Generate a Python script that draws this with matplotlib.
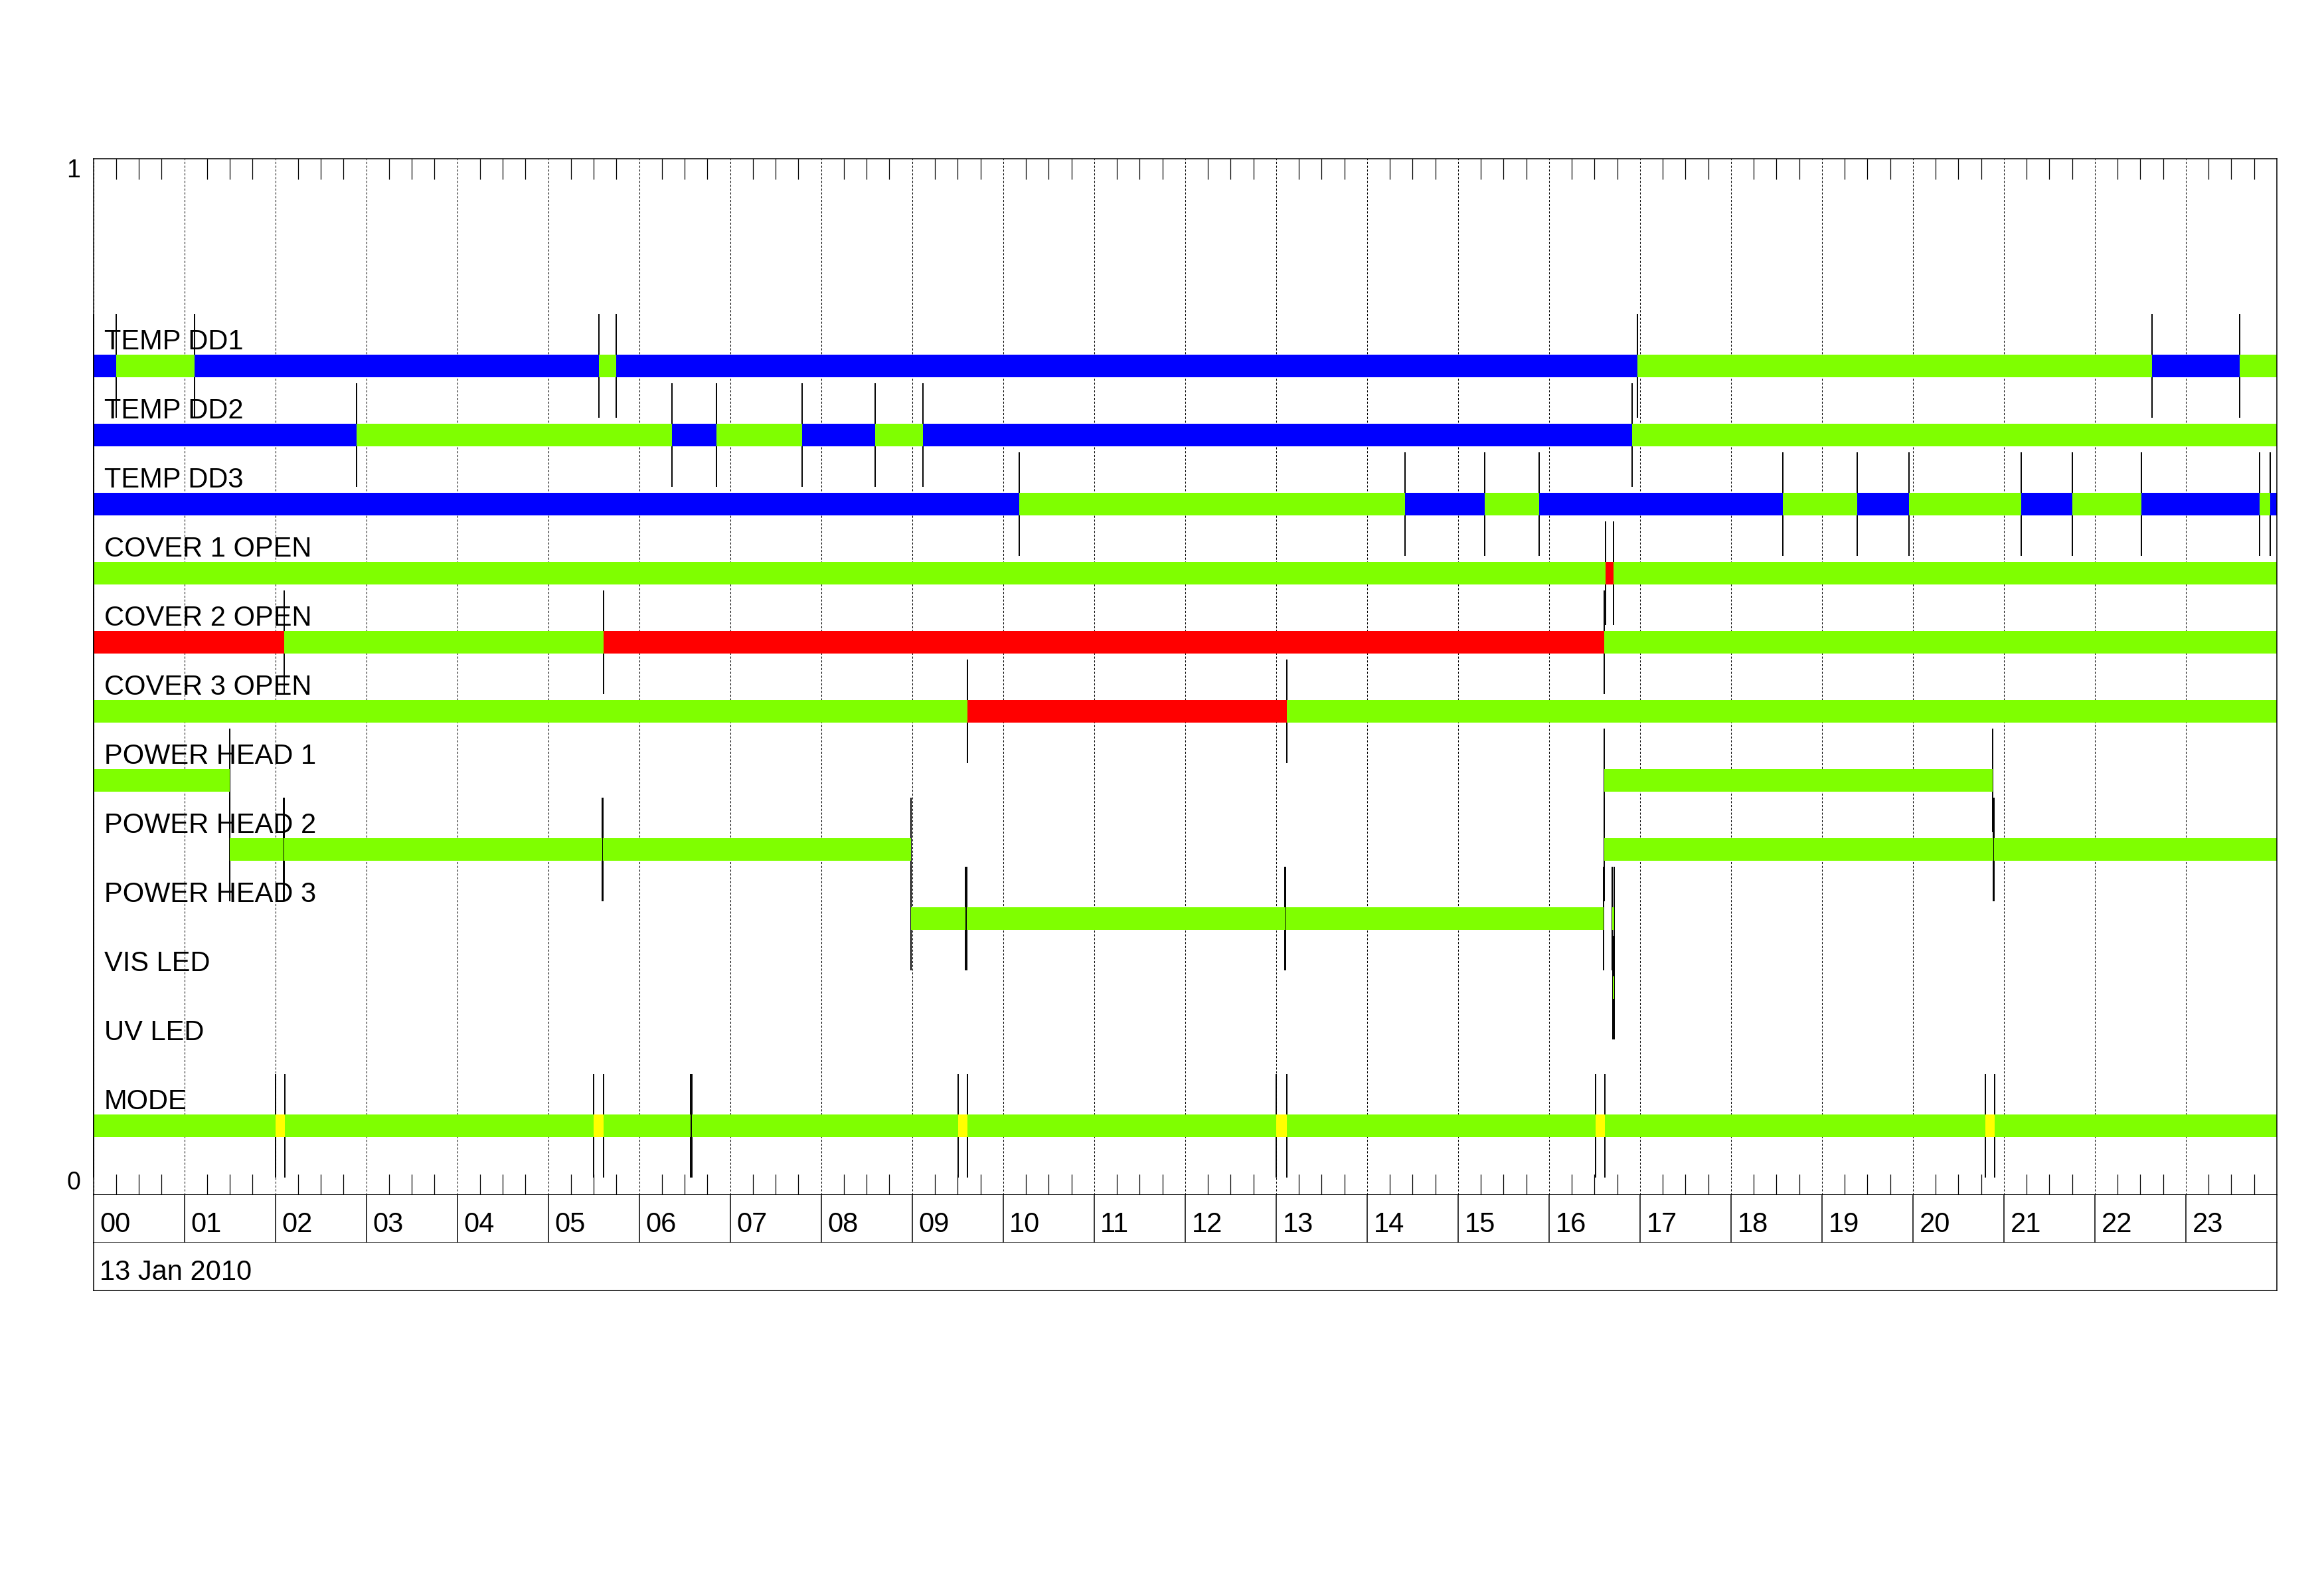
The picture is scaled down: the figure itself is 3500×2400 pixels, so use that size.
import matplotlib
matplotlib.use('Agg')
import matplotlib.pyplot as plt
import numpy as np

plt.rcParams['font.family'] = ['Liberation Sans', 'DejaVu Sans']

# Estados por fila: tiempos de transición (horas) y estado de cada tramo
# b = azul, g = verde, r = rojo, y = amarillo, None = sin dato
labels = ['TEMP DD1', 'TEMP DD2', 'TEMP DD3', 'COVER 1 OPEN', 'COVER 2 OPEN',
          'COVER 3 OPEN', 'POWER HEAD 1', 'POWER HEAD 2', 'POWER HEAD 3',
          'VIS LED', 'UV LED', 'MODE']

temp_dd1_t = [0, 0.25, 1.11, 5.555, 5.747, 16.97, 22.63, 23.59, 24]
temp_dd1_s = ['b', 'g', 'b', 'g', 'b', 'g', 'b', 'g']

temp_dd2_t = [0, 2.89, 6.358, 6.85, 7.79, 8.59, 9.12, 16.91, 24]
temp_dd2_s = ['b', 'g', 'b', 'g', 'b', 'g', 'b', 'g']

temp_dd3_t = [0, 10.18, 14.42, 15.29, 15.89, 18.57, 19.39, 19.96, 21.19,
              21.75, 22.51, 23.81, 23.93, 24]
temp_dd3_s = ['b', 'g', 'b', 'g', 'b', 'g', 'b', 'g', 'b', 'g', 'b', 'g', 'b']

cover1_t = [0, 16.62, 16.71, 24]
cover1_s = ['g', 'r', 'g']

cover2_t = [0, 2.10, 5.605, 16.61, 24]
cover2_s = ['r', 'g', 'r', 'g']

cover3_t = [0, 9.611, 13.115, 24]
cover3_s = ['g', 'r', 'g']

head1_t = [0, 1.50, 16.61, 20.88, 24]
head1_s = ['g', None, 'g', None]

head2_t = [0, 1.50, 2.088, 2.101, 5.592, 5.604, 8.99, 16.61, 20.882, 20.893, 24]
head2_s = [None, 'g', None, 'g', None, 'g', None, 'g', None, 'g']

head3_t = [0, 8.99, 9.589, 9.601, 13.093, 13.105, 16.596, 16.693, 16.718, 24]
head3_s = [None, 'g', None, 'g', None, 'g', None, 'g', None]

vis_t = [0, 16.700, 16.714, 24]
vis_s = [None, 'g', None]

uv_t = [0, 24]
uv_s = [None]

mode_t = [0, 2.001, 2.105, 5.501, 5.611, 6.567, 6.580, 9.509, 9.611,
          13.005, 13.115, 16.511, 16.614, 20.793, 20.90, 24]
mode_s = ['g', 'y', 'g', 'y', 'g', None, 'g', 'y', 'g', 'y', 'g', 'y', 'g', 'y', 'g']

row_times = [temp_dd1_t, temp_dd2_t, temp_dd3_t, cover1_t, cover2_t, cover3_t,
             head1_t, head2_t, head3_t, vis_t, uv_t, mode_t]
row_states = [temp_dd1_s, temp_dd2_s, temp_dd3_s, cover1_s, cover2_s, cover3_s,
              head1_s, head2_s, head3_s, vis_s, uv_s, mode_s]

hour_labels = ['%02d' % h for h in range(24)]
date_label = '13 Jan 2010'

colors = {'b': '#0000FF', 'g': '#7FFF00', 'r': '#FF0000', 'y': '#FFFF00'}

fig = plt.figure(figsize=(35, 24), dpi=100)
ax = fig.add_axes([0.04017, 0.25042, 0.93954, 0.65])

bar_h = 0.0215
for i, (times, states) in enumerate(zip(row_times, row_states)):
    yc = 0.8 - i / 15.0
    # Barras de estado
    for t0, t1, s in zip(times[:-1], times[1:], states):
        if s is None:
            continue
        ax.barh(yc, t1 - t0, left=t0, height=bar_h, color=colors[s],
                edgecolor='none', linewidth=0, zorder=2)
    # Marcas de transición (sin recorte para que la de t=0 engrose el borde)
    ax.vlines(times[:-1], yc - 0.05, yc + 0.05, color='black',
              linewidth=1.4, zorder=1.5, clip_on=False)
    # Etiqueta de la fila
    ax.text(0.12, yc + 0.0157, labels[i], fontsize=30, ha='left',
            va='baseline', zorder=3)

ax.set_xlim(0, 24)
ax.set_ylim(0, 1)

# Ejes y rejilla
ax.set_xticks(range(25))
ax.set_xticklabels([])
quarters = [q / 4.0 for q in range(97) if q % 4 != 0]
ax.set_xticks(quarters, minor=True)
ax.tick_params(axis='x', which='major', length=0, top=True, bottom=True)
ax.tick_params(axis='x', which='minor', direction='in', length=22, width=0.9,
               top=True, bottom=True)
ax.grid(True, axis='x', which='major', color='black', linewidth=0.75,
        linestyle=(0, (3, 2.5)))
ax.set_axisbelow(True)

ax.set_yticks([0, 1])
ax.set_yticklabels(['0', '1'], fontsize=27)
ax.tick_params(axis='y', length=0, pad=14)
for lab in ax.get_yticklabels():
    lab.set_verticalalignment('bottom' if lab.get_text() == '0' else 'top')

for sp in ax.spines.values():
    sp.set_linewidth(1.1)

# Caja con las horas
axh = fig.add_axes([0.04017, 0.22042, 0.93954, 0.03])
axh.set_xlim(0, 24)
axh.set_ylim(0, 1)
axh.set_xticks([])
axh.set_yticks([])
axh.spines['top'].set_visible(False)
for sp in ['left', 'right', 'bottom']:
    axh.spines[sp].set_linewidth(1.1)
axh.vlines(range(1, 24), 0, 1, color='black', linewidth=1.1)
for h, lab in enumerate(hour_labels):
    axh.text(h + 0.07, 0.222, lab, fontsize=30, ha='left', va='baseline')

# Caja con la fecha
axd = fig.add_axes([0.04017, 0.19042, 0.93954, 0.03])
axd.set_xlim(0, 24)
axd.set_ylim(0, 1)
axd.set_xticks([])
axd.set_yticks([])
axd.spines['top'].set_visible(False)
for sp in ['left', 'right', 'bottom']:
    axd.spines[sp].set_linewidth(1.1)
axd.text(0.07, 0.222, date_label, fontsize=30, ha='left', va='baseline')

fig.savefig('out.png', dpi=100, facecolor='white')
plt.close(fig)
